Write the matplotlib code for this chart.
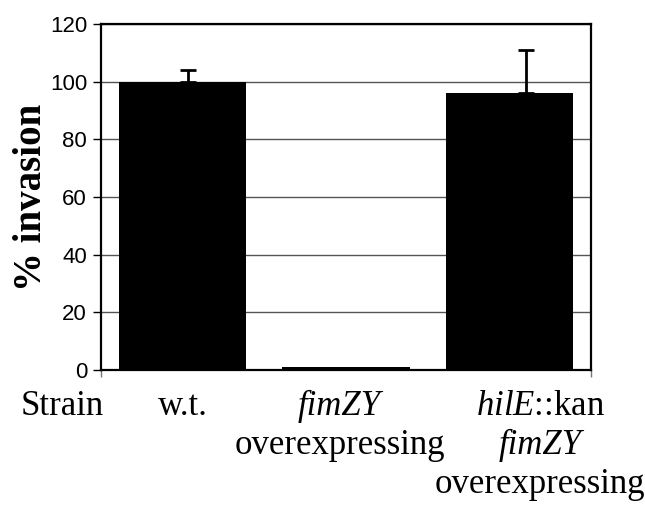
import matplotlib.pyplot as plt
import numpy as np

plt.rcParams["mathtext.fontset"] = "custom"
plt.rcParams["mathtext.rm"] = "Liberation Serif"
plt.rcParams["mathtext.it"] = "Liberation Serif:italic"

strains = ["w.t.", "fimZY\noverexpressing", "hilE::kan\nfimZY\noverexpressing"]
invasion = [100, 1, 96]
err_up = [4, 0, 15]

fig = plt.figure(figsize=(6.45, 5.05), dpi=100)
ax = fig.add_axes([101/645, 1 - 370/505, 490/645, 346/505])

x = np.arange(len(invasion))
ax.bar(x, invasion, width=0.78, color="black", zorder=3)
err_shift = [0.03, 0, 0.1]
for xi, v, e, s in zip(x, invasion, err_up, err_shift):
    if e > 0:
        ax.errorbar(xi + s, v, yerr=[[0], [e]], fmt="none", ecolor="black",
                    elinewidth=2, capsize=6, capthick=2, zorder=4)

ax.set_xlim(-0.5, 2.5)
ax.set_ylim(0, 120)
ax.set_yticks(range(0, 121, 20))
ax.yaxis.grid(True, color="#555555", linewidth=1, zorder=0)
ax.set_yticklabels([str(t) for t in range(0, 121, 20)], fontsize=16,
                   family="Liberation Sans")
ax.tick_params(axis="y", direction="out", length=6, width=1, pad=4)
ax.set_xticks([-0.5, 2.5])
ax.set_xticklabels([])
ax.tick_params(axis="x", direction="out", length=5, width=1, color="#777777")
for sp in ax.spines.values():
    sp.set_linewidth(1.6)

ax.set_ylabel("% invasion", family="Liberation Serif", fontweight="bold",
              fontsize=28, labelpad=0)

serif = dict(family="Liberation Serif", fontsize=25, ha="center", va="baseline")
trans = ax.get_xaxis_transform()
l1, l2, l3 = -0.130, -0.243, -0.356
ax.text(-0.74, l1, "Strain", transform=trans, **serif)
ax.text(0, l1, "w.t.", transform=trans, **serif)
ax.text(0.96, l1, "fimZY", transform=trans, style="italic", **serif)
ax.text(0.96, l2, "overexpressing", transform=trans, **serif)
ax.text(2.19, l1, r"$\it{hilE}$::kan", transform=trans, **serif)
ax.text(2.19, l2, "fimZY", transform=trans, style="italic", **serif)
ax.text(2.19, l3, "overexpressing", transform=trans, **serif)

fig.savefig("out.png", dpi=100)
